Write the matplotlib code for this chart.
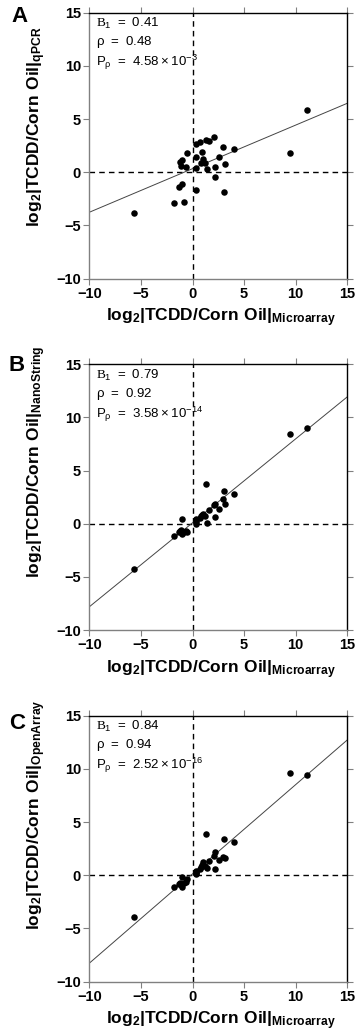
import numpy as np
import matplotlib
matplotlib.use("Agg")
import matplotlib.pyplot as plt

plt.rcParams['mathtext.fontset'] = 'custom'
plt.rcParams['mathtext.rm'] = 'Liberation Serif'
plt.rcParams['mathtext.sf'] = 'Liberation Sans'
plt.rcParams['mathtext.bf'] = 'Liberation Sans:bold'
plt.rcParams['font.family'] = ['Liberation Sans', 'DejaVu Sans']

# log2 fold change from the microarray (shared x for all panels)
x_microarray = [-5.67, 11.06, 9.44, -1.80, -0.83, -1.34, -1.02, -1.18, -1.05, -1.12, -0.60,
                -0.54, 0.34, 0.37, 0.37, 0.34, 0.69, 0.95, 0.79, 1.05, 1.24, 1.27,
                1.63, 2.08, 1.43, 2.14, 2.21, 2.60, 2.98, 3.18, 3.02, 4.05]
y_qpcr = [-3.88, 5.81, 1.76, -2.91, -2.85, -1.44, -1.09, 0.95, 1.10, 0.57, 0.48,
          1.83, 0.38, -1.69, 1.39, 2.64, 2.80, 1.92, 0.82, 1.20, 0.88, 2.99,
          2.89, 3.30, 0.26, -0.50, 0.51, 1.45, 2.36, 0.73, -1.91, 2.17]
y_nanostring = [-4.23, 9.01, 8.41, -1.15, -0.75, -0.80, -1.00, -0.70, 0.41, -0.60, -0.65,
                -0.75, 0.00, 0.20, 0.45, 0.35, 0.54, 0.80, 0.73, 0.88, 0.73, 3.71,
                1.29, 1.79, 0.06, 0.66, 1.83, 1.35, 2.36, 1.83, 3.05, 2.77]
y_openarray = [-3.95, 9.42, 9.58, -1.13, -0.70, -0.85, -1.13, -0.75, -0.16, -0.95, -0.60,
               -0.35, 0.15, 0.31, 0.40, 0.25, 0.60, 1.00, 0.75, 1.28, 0.85, 3.88,
               1.34, 1.84, 0.65, 0.59, 2.16, 1.44, 1.75, 1.66, 3.44, 3.09]

panels = ['A', 'B', 'C']
platforms = ['qPCR', 'NanoString', 'OpenArray']
slopes = [0.41, 0.79, 0.84]
intercepts = [0.33, 0.09, 0.12]
rho = ['0.48', '0.92', '0.94']
p_mant = ['4.58', '3.58', '2.52']
p_exp = ['-3', '-14', '-16']
ticks = [-10, -5, 0, 5, 10, 15]

W, H = 358, 1031
fig = plt.figure(figsize=(W / 100, H / 100), dpi=100)
tops = [12.7, 364.3, 715.7]
letter_dy = [4, 1, 8]
letter_x = [20, 17, 17.5]
ax_l, ax_w, ax_h = 89.3, 258.0, 265.8

ys = [y_qpcr, y_nanostring, y_openarray]
for i in range(3):
    top = tops[i]
    ax = fig.add_axes([ax_l / W, 1 - (top + ax_h) / H, ax_w / W, ax_h / H])
    ax.set_xlim(-10, 15)
    ax.set_ylim(-10, 15)
    ax.set_xticks(ticks)
    ax.set_yticks(ticks)
    ax.tick_params(direction='out', length=4, width=0.8, color='#808080',
                   top=True, right=True, labelsize=10.5, pad=2)
    for lab in ax.get_xticklabels() + ax.get_yticklabels():
        lab.set_fontweight('bold')
    for s in ['left', 'bottom']:
        ax.spines[s].set_color('#808080')
        ax.spines[s].set_linewidth(1.0)
    for s in ['top', 'right']:
        ax.spines[s].set_color('black')
        ax.spines[s].set_linewidth(1.0)

    ax.axhline(0, color='black', ls=(0, (4, 3)), lw=1.0, zorder=1)
    ax.axvline(0, color='black', ls=(0, (4, 3)), lw=1.0, zorder=1)

    xx = np.array([-10, 15])
    ax.plot(xx, slopes[i] * xx + intercepts[i], color='#444444', lw=0.7, zorder=2)
    ax.scatter(x_microarray, ys[i], s=22, color='black', zorder=3, linewidths=0)

    ax.text(0.026, 0.959, r'$\mathrm{B}_\mathsf{1}\ \mathsf{=\ %.2f}$' % slopes[i],
            transform=ax.transAxes, va='center', ha='left', fontsize=9.5)
    ax.text(0.026, 0.888, r'$\mathsf{ρ\ =\ %s}$' % rho[i],
            transform=ax.transAxes, va='center', ha='left', fontsize=9.5)
    ax.text(0.026, 0.812, r'$\mathsf{P}_\mathsf{ρ}\ \mathsf{=\ %s\times10^{%s}}$' % (p_mant[i], p_exp[i]),
            transform=ax.transAxes, va='center', ha='left', fontsize=9.5)

    fig.text(221 / W, 1 - (top + 305) / H,
             r'$\mathbf{log_2|TCDD/Corn\ Oil|_{Microarray}}$',
             ha='center', va='center', fontsize=12.5)
    fig.text(37 / W, 1 - (top + 214) / H,
             r'$\mathbf{log_2|TCDD/Corn\ Oil|_{%s}}$' % platforms[i],
             ha='center', va='bottom', rotation=90, fontsize=12.5)
    fig.text(letter_x[i] / W, 1 - (top + letter_dy[i]) / H, panels[i],
             ha='center', va='center', fontsize=16, fontweight='bold')

fig.savefig('out.png', dpi=100)
